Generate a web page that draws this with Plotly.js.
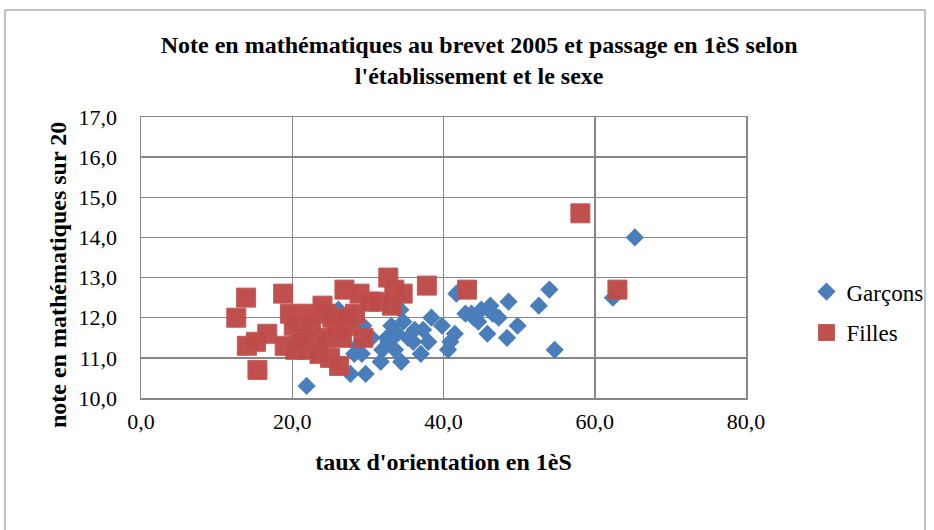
<!DOCTYPE html>
<html>
<head>
<meta charset="utf-8">
<script src="https://cdn.plot.ly/plotly-3.0.1.min.js"></script>
<style>html,body{margin:0;padding:0;background:#fff;}#chart{width:934px;height:530px;}</style>
</head>
<body>
<div id="chart"></div>
<script>
const garconsX = [21.9, 65.3, 62.4, 54.7, 54.0, 52.6, 48.6, 49.8, 48.4, 47.3, 46.2, 45.8, 44.6, 43.7, 42.9, 41.7, 41.5, 40.6, 40.9, 39.8, 38.4, 38.0, 37.3, 37.0, 35.3, 34.7, 34.3, 34.4, 33.1, 32.5, 31.9, 31.7, 29.7, 29.2, 29.4, 27.7, 28.2, 26.1, 33.6, 33.9, 36.2, 45.0, 46.5, 30.5, 28.6, 32.7, 36.0, 44.0];
const garconsY = [10.3, 14.0, 12.5, 11.2, 12.7, 12.3, 12.4, 11.8, 11.5, 12.0, 12.3, 11.6, 11.9, 12.1, 12.1, 12.6, 11.6, 11.2, 11.4, 11.8, 12.0, 11.4, 11.7, 11.1, 11.5, 11.9, 12.2, 10.9, 11.8, 11.5, 11.2, 10.9, 10.6, 11.1, 11.8, 10.6, 11.1, 12.2, 11.2, 11.6, 11.7, 12.2, 12.1, 11.5, 11.3, 11.4, 11.4, 12.0];
const fillesX = [13.9, 12.6, 14.0, 15.2, 16.7, 15.4, 18.8, 19.7, 20.2, 19.0, 20.4, 22.2, 24.0, 24.4, 23.0, 24.4, 25.0, 26.2, 26.9, 28.9, 27.5, 28.3, 29.4, 30.3, 31.4, 32.7, 33.5, 34.6, 33.2, 37.8, 43.1, 58.1, 63.0, 21.1, 22.5, 25.8, 26.6, 25.3, 21.9, 23.6, 21.1, 27.2];
const fillesY = [12.5, 12.0, 11.3, 11.4, 11.6, 10.7, 12.6, 12.1, 11.8, 11.3, 11.2, 12.1, 12.3, 12.1, 11.4, 11.5, 11.0, 10.8, 12.7, 12.6, 11.8, 12.1, 11.5, 12.4, 12.4, 13.0, 12.7, 12.6, 12.3, 12.8, 12.7, 14.6, 12.7, 11.6, 11.8, 11.7, 11.5, 12.0, 11.2, 11.1, 11.4, 12.0];
const seriesNames = ["Garçons", "Filles"];
const xTickVals = [0, 20, 40, 60, 80];
const yTickVals = [10, 11, 12, 13, 14, 15, 16, 17];

const font = "Liberation Serif";
const grid = "#878787";

const traces = [
  {x: garconsX, y: garconsY, name: seriesNames[0], type: "scatter", mode: "markers", legendgroup: "g",
   marker: {symbol: "diamond", size: 14, color: "#4A7EBB", line: {width: 0}}},
  {x: fillesX, y: fillesY, name: seriesNames[1], type: "scatter", mode: "markers", legendgroup: "f",
   marker: {symbol: "square", size: 19, color: "#BE4B48", opacity: 0.97, line: {width: 1, color: "#C25553"}}}
];

const layout = {
  width: 934, height: 530,
  margin: {l: 141, r: 188, t: 117, b: 132, autoexpand: false},
  paper_bgcolor: "#fff", plot_bgcolor: "#fff",
  separators: ", ",
  font: {family: font, size: 22, color: "#000"},
  title: {text: "<b>Note en mathématiques au brevet 2005 et passage en 1èS selon<br>l'établissement et le sexe</b>",
          x: 0.513, xref: "container", xanchor: "center", y: 0.90, yref: "container", yanchor: "top",
          font: {family: font, size: 24, color: "#000"}},
  xaxis: {range: [0, 80], tickvals: xTickVals, tickformat: ".1f", showgrid: true, gridcolor: grid, gridwidth: 1.5,
          showline: true, linecolor: grid, linewidth: 1.5, mirror: true, zeroline: false, automargin: false,
          ticks: "outside", ticklen: 3, tickcolor: "rgba(0,0,0,0)",
          tickfont: {family: font, size: 22, color: "#000"},
          title: {text: "<b>taux d'orientation en 1èS</b>", standoff: 20, font: {family: font, size: 24, color: "#000"}}},
  yaxis: {range: [10, 17], tickvals: yTickVals, tickformat: ".1f", showgrid: true, gridcolor: grid, gridwidth: 1.5,
          showline: true, linecolor: grid, linewidth: 1.5, mirror: true, zeroline: false, automargin: false,
          ticks: "outside", ticklen: 18, tickcolor: "rgba(0,0,0,0)",
          tickfont: {family: font, size: 22, color: "#000"}},
  annotations: [{text: "<b>note en mathématiques sur 20</b>", xref: "paper", yref: "paper", x: -0.137, y: 0.438,
                 xanchor: "center", yanchor: "middle", textangle: -90, showarrow: false,
                 font: {family: font, size: 24, color: "#000"}}],
  legend: {x: 1.1, xanchor: "left", y: 0.455, yanchor: "top", traceorder: "grouped", tracegroupgap: 8,
           font: {family: font, size: 23, color: "#000"}, bgcolor: "rgba(0,0,0,0)"},
  shapes: [{type: "rect", xref: "paper", yref: "paper", x0: -0.2248, x1: 1.2959, y0: -0.49, y1: 1.3808,
            line: {color: "#868686", width: 1}, fillcolor: "rgba(0,0,0,0)", layer: "below"}]
};

Plotly.newPlot("chart", traces, layout, {displayModeBar: false, staticPlot: true});
</script>
</body>
</html>
